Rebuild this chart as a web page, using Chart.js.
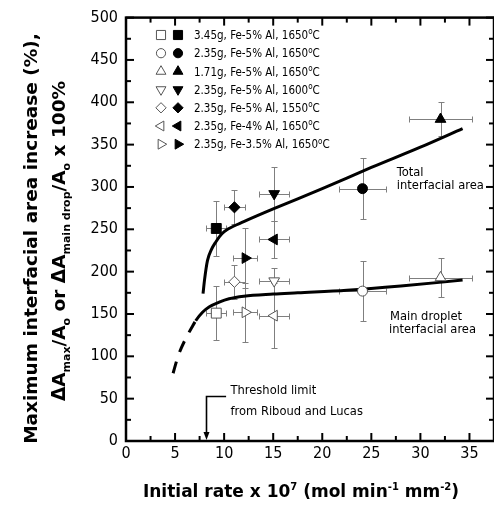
<!DOCTYPE html>
<html>
<head>
<meta charset="utf-8">
<script src="https://cdn.jsdelivr.net/npm/chart.js@4.4.1/dist/chart.umd.min.js"></script>
<style>
 html, body { margin: 0; padding: 0; background: #fff; overflow: hidden; }
 #wrap { width: 502px; height: 507px; }
</style>
</head>
<body>
<div id="wrap"><canvas id="chart" width="502" height="507"></canvas></div>
<script>
// series (legend order)
const seriesLabels = [
 '3.45g, Fe-5% Al, 1650°C',
 '2.35g, Fe-5% Al, 1650°C',
 '1.71g, Fe-5% Al, 1650°C',
 '2.35g, Fe-5% Al, 1600°C',
 '2.35g, Fe-5% Al, 1550°C',
 '2.35g, Fe-4% Al, 1650°C',
 '2.35g, Fe-3.5% Al, 1650°C'
];
const markerStyles = ['rect', 'circle', 'triangle', 'triangle', 'rectRot', 'triangle', 'triangle'];
const markerRotations = [0, 0, 0, 180, 0, 270, 90];
const markerRadii = [7, 5, 6.2, 6.2, 5.6, 6.2, 6.2];

// x = initial rate, same for both area types
const rateX = [9.2, 24.1, 32.05, 15.1, 11.05, 15.1, 12.15];
const rateErr = [1.0, 2.4, 3.2, 1.5, 1.1, 1.5, 1.2];

// filled = total interfacial area, open = main droplet
const totalArea = [251, 298, 380, 292, 276, 238, 216];
const totalErr = [32, 36, 20, 32, 20, 22, 35];
const mainArea = [151, 177, 193, 189, 188, 148, 152];
const mainErr = [32, 35, 23, 15, 20, 38, 35];

// fitted curves
const totalCurveX = [7.85, 8.0, 8.3, 8.7, 9.15, 9.8, 10.5, 12, 15, 20, 25, 30, 34.3];
const totalCurveY = [174, 190, 213, 226, 235, 245, 251, 259, 274, 298, 323, 347, 369];
const mainCurveX = [4.8, 5.3, 6.0, 6.7, 7.1, 7.8, 8.5, 9.5, 10.5, 12, 15, 17.5, 22.5, 28, 34.3];
const mainCurveY = [80, 100, 119, 134, 142, 152, 158.5, 164, 168, 171, 173.5, 175, 178, 183, 190];
const dashEndX = 7.1;

const xTicks = [0, 5, 10, 15, 20, 25, 30, 35];
const yTicks = [0, 50, 100, 150, 200, 250, 300, 350, 400, 450, 500];

const thresholdX = 8.2;

const COND = '"DejaVu Sans Condensed", "DejaVu Sans", sans-serif';
const BOLD = '"DejaVu Sans", Verdana, sans-serif';

function pts(xs, ys) { return xs.map((x, i) => ({ x: x, y: ys[i] })); }

const datasets = [];
seriesLabels.forEach((lab, i) => {
 datasets.push({
  label: lab + ' (total)',
  data: [{ x: rateX[i], y: totalArea[i] }],
  errX: [rateErr[i]], errY: [totalErr[i]],
  pointStyle: markerStyles[i], rotation: markerRotations[i], pointRadius: markerRadii[i],
  backgroundColor: '#000', borderColor: '#000', borderWidth: 1, order: 1
 });
 datasets.push({
  label: lab + ' (main drop)',
  data: [{ x: rateX[i], y: mainArea[i] }],
  errX: [rateErr[i]], errY: [mainErr[i]],
  pointStyle: markerStyles[i], rotation: markerRotations[i], pointRadius: markerRadii[i],
  backgroundColor: '#fff', borderColor: '#555', borderWidth: 1, order: 1
 });
});
datasets.push({
 label: 'Total interfacial area', data: pts(totalCurveX, totalCurveY),
 showLine: true, pointRadius: 0, borderColor: '#000', borderWidth: 3,
 cubicInterpolationMode: 'monotone', order: 5
});
datasets.push({
 label: 'Main droplet interfacial area', data: pts(mainCurveX, mainCurveY),
 showLine: true, pointRadius: 0, borderColor: '#000', borderWidth: 3,
 cubicInterpolationMode: 'monotone', order: 5,
 segment: { borderDash: c => (c.p1.parsed.x <= dashEndX + 1e-6 ? [12, 10] : undefined) }
});

// text with sub/superscripts; parts = [[text, mode], ...]
function richWidth(ctx, parts, size, sub, weight, fam) {
 let w = 0;
 parts.forEach(p => {
  ctx.font = weight + ' ' + (p[1] ? sub : size) + 'px ' + fam;
  w += ctx.measureText(p[0]).width;
 });
 return w;
}
function drawRich(ctx, parts, x, y, size, sub, weight, fam, align) {
 let w = richWidth(ctx, parts, size, sub, weight, fam);
 let cx = align === 'center' ? x - w / 2 : x;
 ctx.textAlign = 'left';
 ctx.textBaseline = 'alphabetic';
 parts.forEach(p => {
  ctx.font = weight + ' ' + (p[1] ? sub : size) + 'px ' + fam;
  let dy = p[1] === 'sub' ? size * 0.25 : p[1] === 'sup' ? -size * 0.42 : 0;
  ctx.fillText(p[0], cx, y + dy);
  cx += ctx.measureText(p[0]).width;
 });
}
function degParts(s) {
 const k = s.indexOf('°');
 if (k < 0) return [[s, '']];
 return [[s.slice(0, k), ''], ['o', 'sup'], [s.slice(k + 1), '']];
}

function drawMarker(ctx, style, rot, r, x, y) {
 ctx.save();
 ctx.translate(x, y);
 ctx.rotate(rot * Math.PI / 180);
 ctx.beginPath();
 if (style === 'circle') ctx.arc(0, 0, r, 0, Math.PI * 2);
 else if (style === 'rect') { const s = r * Math.SQRT1_2; ctx.rect(-s, -s, 2 * s, 2 * s); }
 else if (style === 'rectRot') { ctx.moveTo(0, -r); ctx.lineTo(r, 0); ctx.lineTo(0, r); ctx.lineTo(-r, 0); ctx.closePath(); }
 else {
  for (let k = 0; k < 3; k++) {
   const a = -Math.PI / 2 + k * 2 * Math.PI / 3;
   if (k === 0) ctx.moveTo(r * Math.cos(a), r * Math.sin(a)); else ctx.lineTo(r * Math.cos(a), r * Math.sin(a));
  }
  ctx.closePath();
 }
 ctx.fill();
 ctx.stroke();
 ctx.restore();
}

function line(ctx, x0, y0, x1, y1) { ctx.beginPath(); ctx.moveTo(x0, y0); ctx.lineTo(x1, y1); ctx.stroke(); }

const extras = {
 id: 'extras',
 beforeDatasetsDraw(chart) {
  // error bars
  const ctx = chart.ctx, x = chart.scales.x, y = chart.scales.y;
  ctx.save();
  ctx.strokeStyle = '#7f7f7f';
  ctx.lineWidth = 1;
  chart.data.datasets.forEach(ds => {
   if (!ds.errX) return;
   ds.data.forEach((p, i) => {
    const px = Math.round(x.getPixelForValue(p.x)) + 0.5;
    const py = Math.round(y.getPixelForValue(p.y)) + 0.5;
    const ya = Math.round(y.getPixelForValue(p.y - ds.errY[i])) + 0.5;
    const yb = Math.round(y.getPixelForValue(p.y + ds.errY[i])) + 0.5;
    const xa = Math.round(x.getPixelForValue(p.x - ds.errX[i])) + 0.5;
    const xb = Math.round(x.getPixelForValue(p.x + ds.errX[i])) + 0.5;
    line(ctx, px, ya, px, yb);
    line(ctx, px - 3, ya, px + 3, ya);
    line(ctx, px - 3, yb, px + 3, yb);
    line(ctx, xa, py, xb, py);
    line(ctx, xa, py - 3, xa, py + 3);
    line(ctx, xb, py - 3, xb, py + 3);
   });
  });
  ctx.restore();
 },
 afterDraw(chart) {
  const ctx = chart.ctx, x = chart.scales.x, y = chart.scales.y;
  const a = chart.chartArea;
  ctx.save();
  // frame + ticks
  ctx.strokeStyle = '#000';
  ctx.lineWidth = 2.5;
  ctx.strokeRect(a.left, a.top, a.right - a.left, a.bottom - a.top);
  ctx.lineWidth = 2;
  for (let v = 0; v <= 37.5; v += 2.5) {
   const px = x.getPixelForValue(v);
   const len = v % 5 === 0 ? 8 : 5;
   line(ctx, px, a.bottom, px, a.bottom - len);
   line(ctx, px, a.top, px, a.top + len);
  }
  for (let v = 0; v <= 500; v += 25) {
   const py = y.getPixelForValue(v);
   const len = v % 50 === 0 ? 8 : 5;
   line(ctx, a.left, py, a.left + len, py);
   line(ctx, a.right, py, a.right - len, py);
  }

  // annotations
  ctx.fillStyle = '#000';
  ctx.font = '12.8px ' + COND;
  ctx.textAlign = 'left';
  ctx.textBaseline = 'alphabetic';
  ctx.fillText('Total', x.getPixelForValue(27.6), y.getPixelForValue(313.5));
  ctx.fillText('interfacial area', x.getPixelForValue(27.6), y.getPixelForValue(298));
  ctx.fillText('Main droplet', x.getPixelForValue(26.9), y.getPixelForValue(143));
  ctx.fillText('interfacial area', x.getPixelForValue(26.8), y.getPixelForValue(127));
  ctx.fillText('Threshold limit', x.getPixelForValue(10.65), y.getPixelForValue(55.5));
  ctx.fillText('from Riboud and Lucas', x.getPixelForValue(10.65), y.getPixelForValue(30.5));

  // threshold arrow
  const ax = Math.round(x.getPixelForValue(thresholdX)) + 0.5;
  const ay = Math.round(y.getPixelForValue(53)) + 0.5;
  ctx.lineWidth = 1.6;
  ctx.beginPath();
  ctx.moveTo(x.getPixelForValue(10.2), ay);
  ctx.lineTo(ax, ay);
  ctx.lineTo(ax, a.bottom - 8);
  ctx.stroke();
  ctx.beginPath();
  ctx.moveTo(ax - 3, a.bottom - 9);
  ctx.lineTo(ax + 3, a.bottom - 9);
  ctx.lineTo(ax, a.bottom - 1);
  ctx.closePath();
  ctx.fill();

  // legend
  seriesLabels.forEach((lab, i) => {
   const cy = 35 + i * 18.2;
   ctx.lineWidth = 1;
   ctx.fillStyle = '#fff'; ctx.strokeStyle = '#555';
   drawMarker(ctx, markerStyles[i], markerRotations[i], markerRadii[i] * 0.92, 161, cy);
   ctx.fillStyle = '#000'; ctx.strokeStyle = '#000';
   drawMarker(ctx, markerStyles[i], markerRotations[i], markerRadii[i] * 0.92, 178, cy);
   drawRich(ctx, degParts(lab), 194, cy + 4.2, 11.5, 8, '', COND, 'left');
  });

  // axis titles
  ctx.fillStyle = '#000';
  drawRich(ctx, [['Initial rate x 10', ''], ['7', 'sup'], [' (mol min', ''], ['-1', 'sup'], [' mm', ''], ['-2', 'sup'], [')', '']],
   301, 497, 17, 10, 'bold', BOLD, 'center');
  ctx.save();
  ctx.translate(37, 238.5);
  ctx.rotate(-Math.PI / 2);
  drawRich(ctx, [['Maximum interfacial area increase (%),', '']], 0, 0, 18.5, 11, 'bold', BOLD, 'center');
  ctx.restore();
  ctx.save();
  ctx.translate(65, 241);
  ctx.rotate(-Math.PI / 2);
  drawRich(ctx, [['\u0394A', ''], ['max', 'sub'], ['/A', ''], ['o', 'sub'], [' or \u0394A', ''], ['main drop', 'sub'],
   ['/A', ''], ['o', 'sub'], [' x 100%', '']], 0, 0, 18.5, 11, 'bold', BOLD, 'center');
  ctx.restore();
  ctx.restore();
 }
};

new Chart(document.getElementById('chart'), {
 type: 'scatter',
 data: { datasets: datasets },
 options: {
  responsive: false,
  devicePixelRatio: 1,
  animation: false,
  events: [],
  layout: { padding: { top: 17, right: 4, bottom: 0, left: 0 } },
  plugins: { legend: { display: false }, tooltip: { enabled: false }, title: { display: false } },
  scales: {
   x: {
    type: 'linear', min: 0, max: 37.5,
    grid: { display: false, drawTicks: false }, border: { display: false },
    afterBuildTicks: s => { s.ticks = xTicks.map(v => ({ value: v })); },
    afterFit: s => { s.height = 66; },
    ticks: { padding: 3, color: '#000', font: { family: COND, size: 16 } }
   },
   y: {
    type: 'linear', min: 0, max: 500,
    grid: { display: false, drawTicks: false }, border: { display: false },
    afterBuildTicks: s => { s.ticks = yTicks.map(v => ({ value: v })); },
    afterFit: s => { s.width = 126; },
    ticks: { padding: 8, color: '#000', font: { family: COND, size: 16 } }
   }
  }
 },
 plugins: [extras]
});
</script>
</body>
</html>
